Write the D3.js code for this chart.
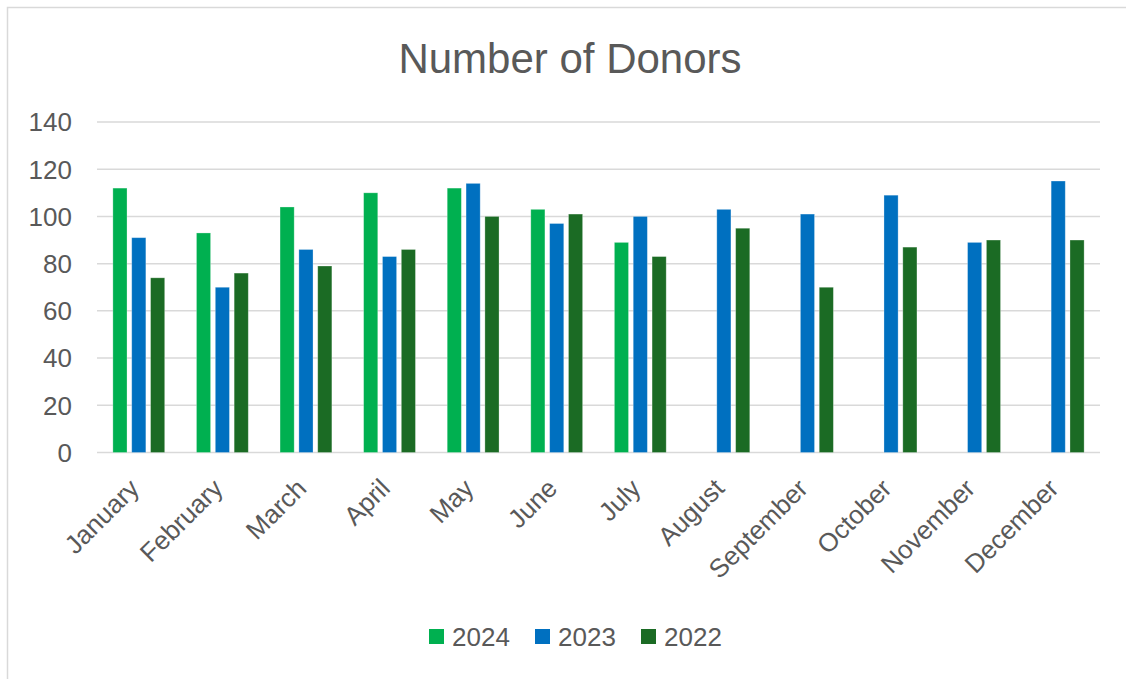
<!DOCTYPE html>
<html>
<head>
<meta charset="utf-8">
<script src="https://cdn.jsdelivr.net/npm/d3@7"></script>
<style>
  html, body { margin: 0; padding: 0; background: #fff; }
  svg { display: block; }
</style>
</head>
<body>
<svg id="chart" width="1126" height="679"></svg>
<script>
const months = ['January', 'February', 'March', 'April', 'May', 'June', 'July',
    'August', 'September', 'October', 'November', 'December'];
const seriesNames = ['2024', '2023', '2022'];
const values2024 = [112, 93, 104, 110, 112, 103, 89, null, null, null, null, null];
const values2023 = [91, 70, 86, 83, 114, 97, 100, 103, 101, 109, 89, 115];
const values2022 = [74, 76, 79, 86, 100, 101, 83, 95, 70, 87, 90, 90];
const yTicks = [0, 20, 40, 60, 80, 100, 120, 140];
const colors = ['#00b050', '#0070c0', '#1b6b24'];

const font = '"Liberation Sans", Arial, sans-serif';
const textColor = '#595959';

const svg = d3.select('#chart');

// chart area frame (only top/left edges show in the crop)
svg.append('rect')
    .attr('x', 7.5)
    .attr('y', 7.5)
    .attr('width', 1140)
    .attr('height', 700)
    .attr('fill', '#fff')
    .attr('stroke', '#d9d9d9')
    .attr('stroke-width', 1.5);

const x0 = d3.scaleBand()
    .domain(months)
    .range([97, 1100])
    .paddingInner(0.38)
    .paddingOuter(0.19);

const x1 = d3.scaleBand()
    .domain(seriesNames)
    .range([0, x0.bandwidth()])
    .paddingInner(0.25);

const y = d3.scaleLinear()
    .domain([0, 140])
    .range([452.5, 122]);

// gridlines
svg.append('g')
    .selectAll('line')
    .data(yTicks)
    .join('line')
        .attr('x1', 97)
        .attr('x2', 1100)
        .attr('y1', d => y(d))
        .attr('y2', d => y(d))
        .attr('stroke', '#d9d9d9')
        .attr('stroke-width', 1.5);

// y labels
svg.append('g')
    .selectAll('text')
    .data(yTicks)
    .join('text')
        .attr('x', 72)
        .attr('y', d => y(d))
        .attr('dy', '0.36em')
        .attr('text-anchor', 'end')
        .attr('font-family', font)
        .attr('font-size', 26)
        .attr('fill', textColor)
        .text(d => d);

const rows = months.map((m, i) => ({
    month: m,
    vals: [values2024[i], values2023[i], values2022[i]]
}));

const groups = svg.append('g')
    .selectAll('g')
    .data(rows)
    .join('g')
        .attr('transform', d => `translate(${x0(d.month)},0)`);

groups.selectAll('rect')
    .data(d => d.vals.map((v, j) => ({ key: seriesNames[j], v, j })).filter(e => e.v != null))
    .join('rect')
        .attr('x', d => x1(d.key))
        .attr('y', d => y(d.v))
        .attr('width', x1.bandwidth())
        .attr('height', d => y(0) - y(d.v))
        .attr('fill', d => colors[d.j])
        .attr('stroke', '#ffffff')
        .attr('stroke-opacity', 0.35)
        .attr('stroke-width', 0.8);

// x labels, rotated -45
svg.append('g')
    .selectAll('text')
    .data(months)
    .join('text')
        .attr('transform', d => `translate(${x0(d) + x0.bandwidth() / 2 + 2},${490}) rotate(-45)`)
        .attr('text-anchor', 'end')
        .attr('font-family', font)
        .attr('font-size', 26)
        .attr('fill', textColor)
        .text(d => d);

// title
svg.append('text')
    .attr('x', 570)
    .attr('y', 73)
    .attr('text-anchor', 'middle')
    .attr('font-family', font)
    .attr('font-size', 42)
    .attr('fill', textColor)
    .text('Number of Donors');

// legend
const legendX = [429, 535, 641];
const legend = svg.append('g')
    .selectAll('g')
    .data(seriesNames)
    .join('g')
        .attr('transform', (d, i) => `translate(${legendX[i]},629)`);

legend.append('rect')
    .attr('width', 15)
    .attr('height', 15)
    .attr('fill', (d, i) => colors[i]);

legend.append('text')
    .attr('x', 23)
    .attr('y', 16.5)
    .attr('font-family', font)
    .attr('font-size', 26)
    .attr('fill', textColor)
    .text(d => d);
</script>
</body>
</html>
